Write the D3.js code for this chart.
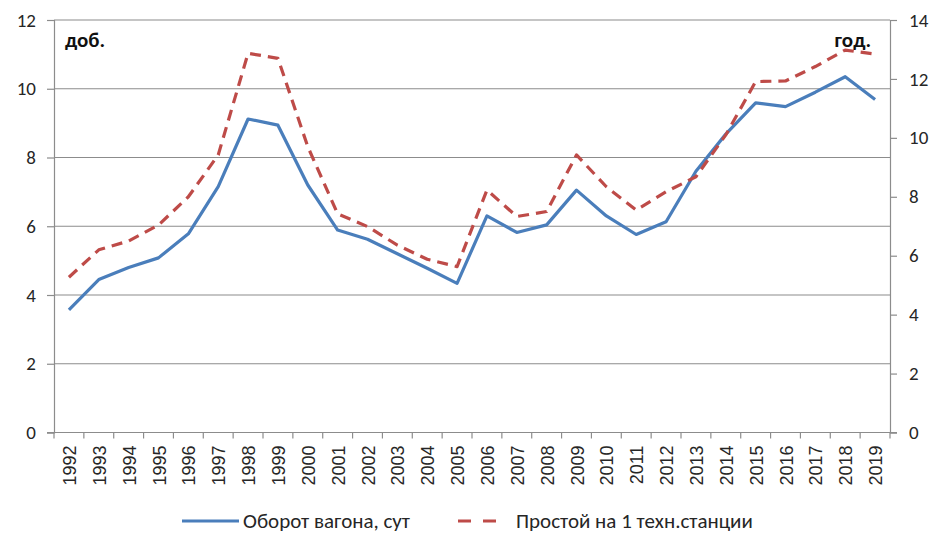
<!DOCTYPE html>
<html>
<head>
<meta charset="utf-8">
<script src="https://cdn.jsdelivr.net/npm/d3@7"></script>
<style>
  html, body { margin: 0; padding: 0; background: #fff; }
  svg { display: block; }
</style>
</head>
<body>
<div id="chart"></div>
<script>
// Years on the category axis
const years = [1992, 1993, 1994, 1995, 1996, 1997, 1998, 1999, 2000, 2001,
               2002, 2003, 2004, 2005, 2006, 2007, 2008, 2009, 2010, 2011,
               2012, 2013, 2014, 2015, 2016, 2017, 2018, 2019];

// Wagon turnover, days (left axis)
const turnover = [3.57, 4.45, 4.8, 5.08, 5.78, 7.15, 9.12, 8.94, 7.2, 5.89,
                  5.62, 5.2, 4.78, 4.34, 6.3, 5.82, 6.04, 7.05, 6.3, 5.76,
                  6.13, 7.6, 8.68, 9.59, 9.48, 9.9, 10.35, 9.69];

// Idle time at one technical station, hours (right axis)
const idle = [5.27, 6.2, 6.5, 7.04, 8.0, 9.42, 12.87, 12.7, 9.7, 7.42,
              6.99, 6.36, 5.88, 5.63, 8.23, 7.33, 7.5, 9.42, 8.34, 7.55,
              8.17, 8.68, 10.1, 11.91, 11.93, 12.42, 12.98, 12.84];

const leftTicks = [0, 2, 4, 6, 8, 10, 12];
const rightTicks = [0, 2, 4, 6, 8, 10, 12, 14];

const seriesNames = ["Оборот вагона, сут", "Простой на 1 техн.станции"];
const unitLeft = "доб.";
const unitRight = "год.";

const W = 938, H = 534;
const plot = { left: 54, right: 890, top: 20, bottom: 432.5 };

const svg = d3.select("#chart").append("svg")
  .attr("width", W).attr("height", H);

const x = d3.scaleBand().domain(years).range([plot.left, plot.right]).padding(0);
const yL = d3.scaleLinear().domain([0, 12]).range([plot.bottom, plot.top]);
const yR = d3.scaleLinear().domain([0, 14]).range([plot.bottom, plot.top]);

const gridColor = "#8c8c8c";
const axisColor = "#8c8c8c";
const textColor = "#262626";
const tickFont = "Carlito, 'Open Sans', 'Liberation Sans', sans-serif";

// Horizontal gridlines from the left axis
svg.append("g")
  .selectAll("line")
  .data(leftTicks.filter(d => d > 0))
  .join("line")
  .attr("x1", plot.left).attr("x2", plot.right)
  .attr("y1", d => yL(d)).attr("y2", d => yL(d))
  .attr("stroke", gridColor).attr("stroke-width", 1.2);

// Left axis
const axL = svg.append("g")
  .attr("transform", `translate(${plot.left},0)`)
  .call(d3.axisLeft(yL).tickValues(leftTicks).tickSize(7).tickPadding(11));
// Right axis
const axR = svg.append("g")
  .attr("transform", `translate(${plot.right},0)`)
  .call(d3.axisRight(yR).tickValues(rightTicks).tickSize(7).tickPadding(12));

[axL, axR].forEach(ax => {
  ax.select(".domain").attr("stroke", axisColor).attr("stroke-width", 1.2);
  ax.selectAll(".tick line").attr("stroke", axisColor).attr("stroke-width", 1.2);
  ax.selectAll(".tick text")
    .attr("fill", textColor)
    .style("font-family", tickFont)
    .style("font-size", "19px");
});

// Bottom category axis with ticks between categories
const axB = svg.append("g")
  .attr("transform", `translate(0,${plot.bottom})`);
axB.append("line")
  .attr("x1", plot.left - 7).attr("x2", plot.right + 7)
  .attr("y1", 0).attr("y2", 0)
  .attr("stroke", axisColor).attr("stroke-width", 1.2);
const bounds = years.map(d => x(d)).concat([plot.right]);
axB.selectAll("line.tk")
  .data(bounds)
  .join("line")
  .attr("class", "tk")
  .attr("x1", d => d).attr("x2", d => d)
  .attr("y1", 0).attr("y2", 6)
  .attr("stroke", axisColor).attr("stroke-width", 1.2);
axB.selectAll("text")
  .data(years)
  .join("text")
  .attr("transform", d => `translate(${x(d) + x.bandwidth() / 2 + 7},13) rotate(-90)`)
  .attr("text-anchor", "end")
  .attr("fill", textColor)
  .style("font-family", "'Liberation Sans', Arial, sans-serif")
  .style("font-size", "18px")
  .text(d => d);

// Lines
const cx = d => x(d) + x.bandwidth() / 2;
const lineL = d3.line().x((d, i) => cx(years[i])).y(d => yL(d));
const lineR = d3.line().x((d, i) => cx(years[i])).y(d => yR(d));

const blue = "#4a7ebb";
const red = "#be4b48";

svg.append("path")
  .datum(turnover)
  .attr("d", lineL)
  .attr("fill", "none")
  .attr("stroke", blue)
  .attr("stroke-width", 3.2)
  .attr("stroke-linejoin", "round");

svg.append("path")
  .datum(idle)
  .attr("d", lineR)
  .attr("fill", "none")
  .attr("stroke", red)
  .attr("stroke-width", 3.2)
  .attr("stroke-dasharray", "11,7")
  .attr("stroke-linejoin", "round");

// Unit captions
svg.append("text")
  .attr("x", 65).attr("y", 47)
  .attr("fill", "#111")
  .style("font-family", tickFont)
  .style("font-size", "21px")
  .style("font-weight", "bold")
  .text(unitLeft);
svg.append("text")
  .attr("x", 871).attr("y", 47)
  .attr("text-anchor", "end")
  .attr("fill", "#111")
  .style("font-family", tickFont)
  .style("font-size", "21px")
  .style("font-weight", "bold")
  .text(unitRight);

// Legend
const lg = svg.append("g").attr("transform", "translate(0,521)");
lg.append("line")
  .attr("x1", 182).attr("x2", 239).attr("y1", 0).attr("y2", 0)
  .attr("stroke", blue).attr("stroke-width", 3.2);
lg.append("text")
  .attr("x", 243).attr("y", 6.5)
  .attr("fill", textColor)
  .style("font-family", tickFont)
  .style("font-size", "21px")
  .text(seriesNames[0]);
lg.append("line")
  .attr("x1", 458).attr("x2", 502).attr("y1", 0).attr("y2", 0)
  .attr("stroke", red).attr("stroke-width", 3.2)
  .attr("stroke-dasharray", "13,12");
lg.append("text")
  .attr("x", 516).attr("y", 6.5)
  .attr("fill", textColor)
  .style("font-family", tickFont)
  .style("font-size", "21px")
  .text(seriesNames[1]);
</script>
</body>
</html>
